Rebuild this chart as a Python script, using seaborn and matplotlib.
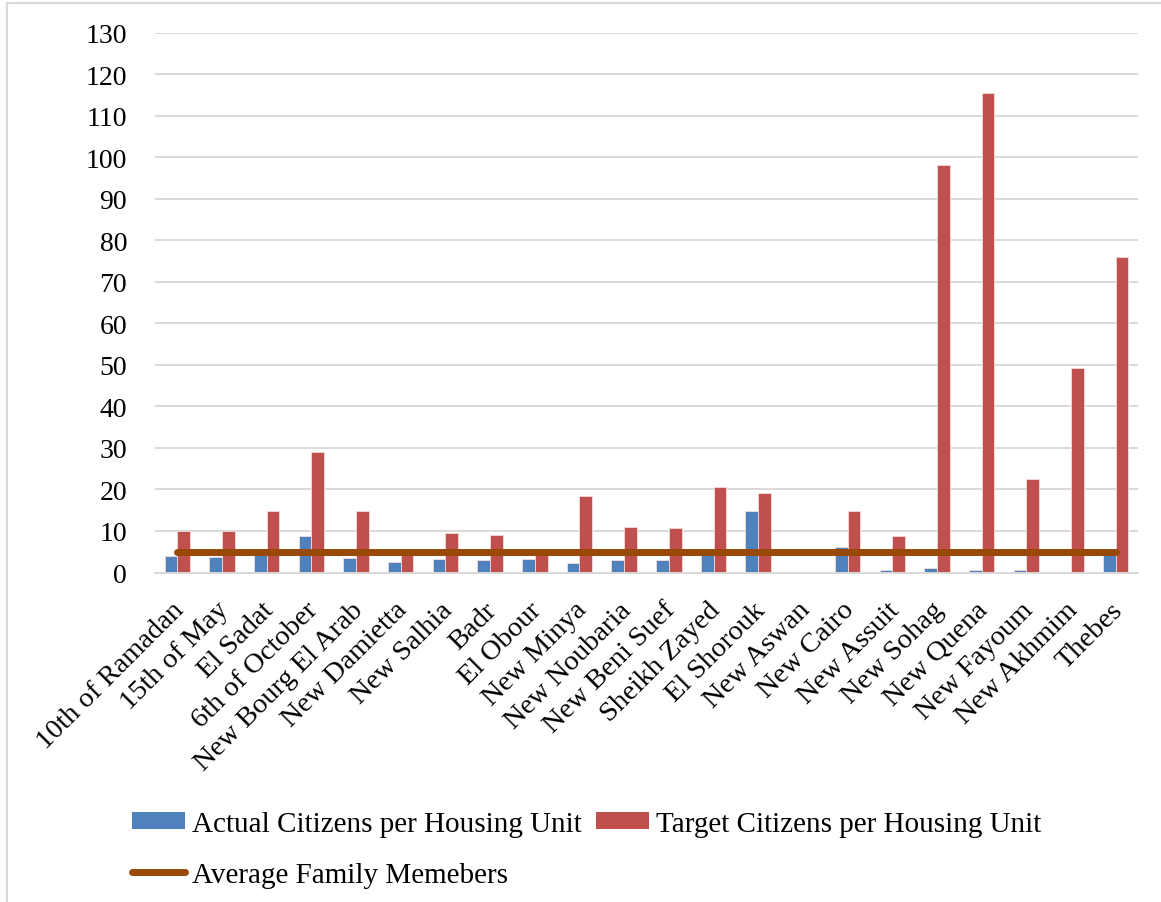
import numpy as np
import pandas as pd
import matplotlib
matplotlib.use("Agg")
import matplotlib.pyplot as plt
import seaborn as sns
from matplotlib.patches import Patch
from matplotlib.lines import Line2D
from matplotlib.transforms import ScaledTranslation

cities = ["10th of Ramadan", "15th of May", "El Sadat", "6th of October",
          "New Bourg El Arab", "New Damietta", "New Salhia", "Badr", "El Obour",
          "New Minya", "New Noubaria", "New Beni Suef", "Sheikh Zayed",
          "El Shorouk", "New Aswan", "New Cairo", "New Assuit", "New Sohag",
          "New Quena", "New Fayoum", "New Akhmim", "Thebes"]
actual = [4.0, 3.8, 4.4, 8.7, 3.5, 2.6, 3.2, 3.0, 3.3, 2.2, 3.0, 2.9, 4.5,
          14.8, 0.0, 6.1, 0.6, 1.0, 0.5, 0.6, 0.0, 4.5]
target = [9.9, 10.0, 14.8, 29.0, 14.7, 4.8, 9.5, 9.1, 5.0, 18.4, 11.0, 10.8,
          20.7, 19.2, 0.0, 14.7, 8.7, 98.2, 115.4, 22.6, 49.2, 75.9]
avg_family = [5.0, 5.0, 5.0, 5.0, 5.0, 5.0, 5.0, 5.0, 5.0, 5.0, 5.0, 5.0,
              5.0, 5.0, 5.0, 5.0, 5.0, 5.0, 5.0, 5.0, 5.0, 5.0]
yticks = [0, 10, 20, 30, 40, 50, 60, 70, 80, 90, 100, 110, 120, 130]

lab_actual = "Actual Citizens per Housing Unit"
lab_target = "Target Citizens per Housing Unit"
lab_avg = "Average Family Memebers"

c_blue = "#4F81BD"
c_red = "#C0504D"
c_line = "#984807"
c_grid = "#D9D9D9"

sns.set_style("white")
plt.rcParams["font.family"] = ["Liberation Serif", "DejaVu Serif"]
plt.rcParams["text.color"] = "black"
plt.rcParams["xtick.color"] = "black"
plt.rcParams["ytick.color"] = "black"
plt.rcParams["xtick.labelcolor"] = "black"
plt.rcParams["ytick.labelcolor"] = "black"

df = pd.DataFrame({
    "city": cities * 2,
    "value": actual + target,
    "series": [lab_actual] * len(cities) + [lab_target] * len(cities),
})

W, H = 1161, 903
fig = plt.figure(figsize=(W / 100, H / 100), dpi=100)
ax = fig.add_axes([155 / W, 1 - 573.5 / H, (1138 - 155) / W, (573.5 - 33.5) / H])

sns.barplot(data=df, x="city", y="value", hue="series", order=cities,
            hue_order=[lab_actual, lab_target],
            palette=[c_blue, c_red], width=0.57, linewidth=0.6,
            edgecolor="#F2DCDB", saturation=1, legend=False, ax=ax)
sns.lineplot(x=np.arange(len(cities)), y=avg_family, color=c_line, lw=5,
             solid_capstyle="round", ax=ax, zorder=4)

ax.set_xlim(-0.5, len(cities) - 0.5)
ax.set_ylim(0, 130)
ax.set_yticks(yticks)
ax.set_yticklabels([str(t) for t in yticks], fontsize=20, color="black")
ax.set_xlabel("")
ax.set_ylabel("")
ax.set_axisbelow(True)
ax.yaxis.grid(True, color=c_grid, lw=1.4)
ax.xaxis.grid(False)
for s in ["top", "right", "left"]:
    ax.spines[s].set_visible(False)
ax.spines["bottom"].set_color(c_grid)
ax.spines["bottom"].set_linewidth(1.4)
ax.tick_params(axis="both", length=0)
ax.tick_params(axis="y", pad=20)
ax.tick_params(axis="x", pad=24)

ax.set_xticks(np.arange(len(cities)))
ax.set_xticklabels(cities, fontsize=20.5, rotation=45, ha="right",
                   va="center", rotation_mode="anchor", color="black")
off = ScaledTranslation(3 / 100, 0, fig.dpi_scale_trans)
for lab in ax.get_xticklabels():
    lab.set_transform(lab.get_transform() + off)

handles = [
    Patch(facecolor=c_blue, edgecolor="none", label=lab_actual),
    Line2D([0], [0], color=c_line, lw=5, solid_capstyle="round", label=lab_avg),
    Patch(facecolor=c_red, edgecolor="none", label=lab_target),
]
leg = fig.legend(handles=handles, ncol=2, loc="upper left",
                 bbox_to_anchor=(132 / W, 1 - 812 / H), frameon=False,
                 fontsize=21, handlelength=1.8, handleheight=0.5,
                 handletextpad=0.25, columnspacing=0.5, labelspacing=0.85,
                 borderpad=0, borderaxespad=0)
for t in leg.get_texts():
    t.set_color("black")

# chart area border (left and top edges visible)
fig.add_artist(Line2D([7 / W, 7 / W], [0, 1 - 4 / H], transform=fig.transFigure,
                      color=c_grid, lw=1.5))
fig.add_artist(Line2D([7 / W, 1], [1 - 4 / H, 1 - 4 / H], transform=fig.transFigure,
                      color=c_grid, lw=1.5))

fig.savefig("out.png", dpi=100, facecolor="white")
